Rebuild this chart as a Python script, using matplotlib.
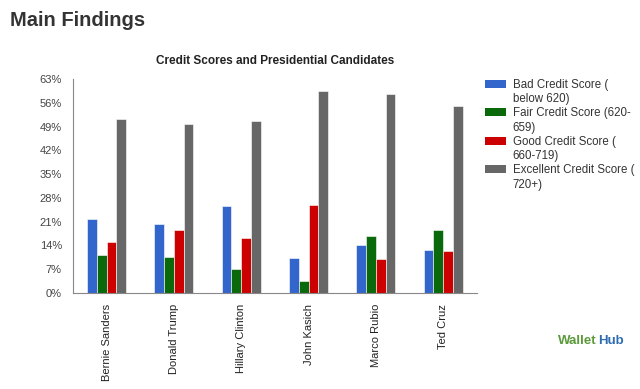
import numpy as np
from matplotlib import pyplot as plt
from matplotlib.patches import Patch

plt.rcParams['font.family'] = ['Liberation Sans', 'DejaVu Sans']

candidates = ['Bernie Sanders', 'Donald Trump', 'Hillary Clinton', 'John Kasich', 'Marco Rubio', 'Ted Cruz']
series_names = ['Bad Credit Score (\nbelow 620)', 'Fair Credit Score (620-\n659)',
                'Good Credit Score (\n660-719)', 'Excellent Credit Score (\n720+)']
bad = [21.9, 20.4, 25.5, 10.3, 14.0, 12.6]
fair = [11.1, 10.6, 7.1, 3.4, 16.9, 18.6]
good = [14.9, 18.5, 16.2, 26.0, 10.1, 12.4]
excellent = [51.3, 49.7, 50.5, 59.5, 58.5, 55.1]
colors = ['#3366cc', '#0a690a', '#cc0000', '#676767']
yticks = [0, 7, 14, 21, 28, 35, 42, 49, 56, 63]

fig = plt.figure(figsize=(6.4, 3.89), dpi=100)
ax = fig.add_axes([0.114, 0.247, 0.631, 0.55])

x = np.arange(len(candidates))
bw = 0.145
for i, vals in enumerate([bad, fair, good, excellent]):
    ax.bar(x - 1.5 * bw + i * bw, vals, bw, color=colors[i], edgecolor='white', linewidth=0.4)

ax.set_xlim(-0.5, len(candidates) - 0.5)
ax.set_ylim(0, 63)
ax.set_yticks(yticks)
ax.set_yticklabels([f'{t}%' for t in yticks], fontsize=8, color='#444444')
ax.set_xticks(x)
ax.set_xticklabels(candidates, rotation=90, fontsize=8, color='#222222')
ax.tick_params(length=0, pad=8)
for s in ['top', 'right']:
    ax.spines[s].set_visible(False)
ax.spines['left'].set_color('#888888')
ax.spines['bottom'].set_color('#888888')

ax.set_title('Credit Scores and Presidential Candidates', fontsize=8.5, fontweight='bold',
             color='#222222', pad=11)

# legend: swatch next to first line of each wrapped label
handles, labels = [], []
for name, c in zip(series_names, colors):
    first, second = name.split('\n')
    handles += [Patch(facecolor=c), Patch(facecolor='none', edgecolor='none')]
    labels += [first, second]
ax.legend(handles, labels, loc='upper left', bbox_to_anchor=(0.995, 1.05), frameon=False,
          fontsize=8.3, handlelength=1.8, handleheight=0.7, labelspacing=0.2,
          handletextpad=0.6, labelcolor='#333333')

fig.text(0.016, 0.948, 'Main Findings', fontsize=14.5, fontweight='bold', color='#333333',
         va='center', ha='left')

fig.text(0.932, 0.124, 'Wallet', fontsize=9.5, fontweight='bold', color='#5a9a3a',
         ha='right', va='center')
fig.text(0.934, 0.124, 'Hub', fontsize=9.5, fontweight='bold', color='#2f6db3',
         ha='left', va='center')

fig.savefig('out.png', dpi=100)
